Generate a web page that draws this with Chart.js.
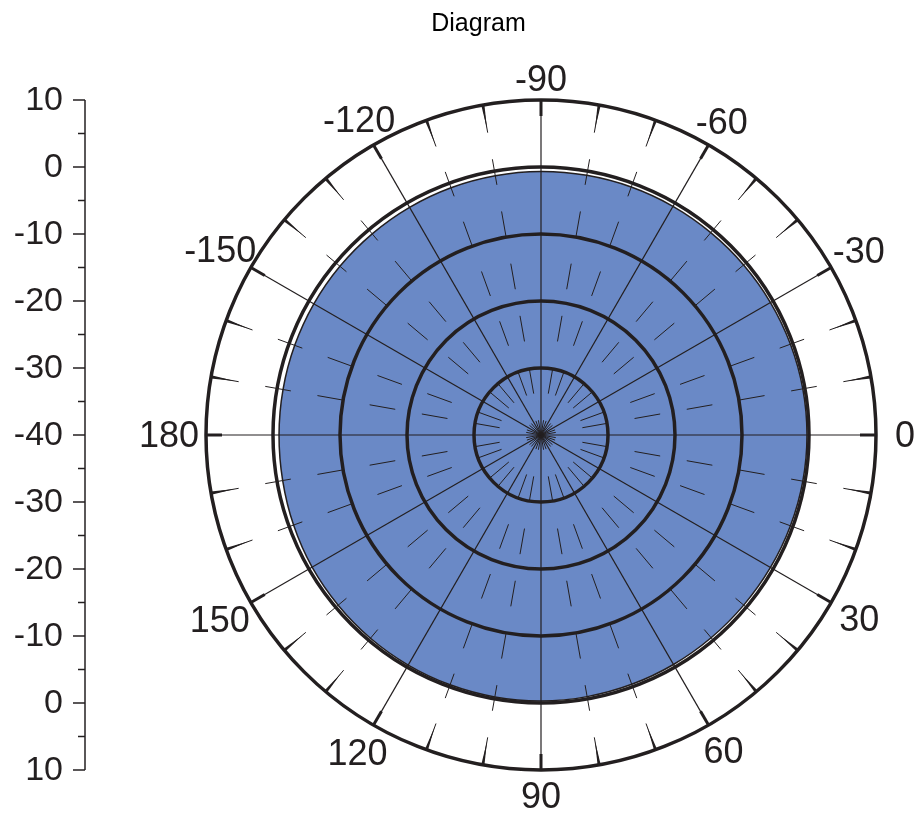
<!DOCTYPE html>
<html>
<head>
<meta charset="utf-8">
<script src="https://cdn.jsdelivr.net/npm/chart.js@4.4.0/dist/chart.umd.min.js"></script>
<style>
  html, body { margin: 0; padding: 0; background: #fff; }
  #wrap { width: 921px; height: 818px; }
</style>
</head>
<body>
<div id="wrap"><canvas id="polar"></canvas></div>
<script>
// angles in degrees, clockwise from the top of the diagram
var angleLabels = [-90, -80, -70, -60, -50, -40, -30, -20, -10, 0, 10, 20, 30, 40, 50, 60, 70, 80,
  90, 100, 110, 120, 130, 140, 150, 160, 170, 180, -170, -160, -150, -140, -130, -120, -110, -100];
// measured level (dB) at each angle
var gainDb = [-0.67, -0.65, -0.62, -0.6, -0.58, -0.52, -0.45, -0.38, -0.32, -0.3, -0.32, -0.38, -0.45, -0.5, -0.5, -0.45, -0.4, -0.35,
  -0.3, -0.3, -0.32, -0.35, -0.4, -0.48, -0.55, -0.7, -0.85, -0.9, -0.9, -0.88, -0.85, -0.82, -0.8, -0.76, -0.72, -0.7];
// left scale, read top to bottom
var leftAxisTicks = [10, 0, -10, -20, -30, -40, -30, -20, -10, 0, 10];
var rMin = -40;
var rMax = 10;

var ink = '#231f20';
var fontFam = '"Liberation Sans", Arial, Helvetica, sans-serif';

function isMajor(i) { return angleLabels[i] % 30 === 0; }

// rim ticks, angle labels and the mirrored dB axis on the left
var rimAndAxis = {
  id: 'rimAndAxis',
  afterLayout: function(chart) {
    if (chart.titleBlock) { chart.titleBlock.left = 36; chart.titleBlock.right = chart.width; }
  },
  afterDraw: function(chart) {
    var s = chart.scales.r, ctx = chart.ctx;
    var R = s.drawingArea;
    ctx.save();
    ctx.strokeStyle = ink;
    ctx.fillStyle = ink;
    ctx.font = '36px ' + fontFam;
    ctx.textAlign = 'center';
    ctx.textBaseline = 'middle';
    for (var i = 0; i < angleLabels.length; i++) {
      var a = s.getPointPosition(i, R);
      if (isMajor(i)) {
        var b = s.getPointPosition(i, R - 16);
        ctx.lineWidth = 3;
        ctx.beginPath(); ctx.moveTo(a.x, a.y); ctx.lineTo(b.x, b.y); ctx.stroke();
        // label, centred just outside the rim
        var ux = (a.x - s.xCenter) / R, uy = (a.y - s.yCenter) / R;
        var txt = String(angleLabels[i]);
        var w = ctx.measureText(txt).width;
        var off = 25 + Math.abs(ux) * 0.2 * w - Math.abs(uy) * 4 + Math.max(uy, 0) * 5;
        var p = s.getPointPosition(i, R + off);
        ctx.fillText(txt, p.x, p.y + 2);
      } else {
        var tip = s.getPointPosition(i, R - 24);
        var dx = tip.x - a.x, dy = tip.y - a.y, len = Math.sqrt(dx * dx + dy * dy);
        var nx = -dy / len * 1.6, ny = dx / len * 1.6;
        ctx.beginPath();
        ctx.moveTo(a.x + nx, a.y + ny);
        ctx.lineTo(a.x - nx, a.y - ny);
        ctx.lineTo(tip.x, tip.y);
        ctx.closePath();
        ctx.fill();
      }
    }

    // left axis
    var axX = 85;
    var ys = leftAxisTicks.map(function(v, k) {
      var d = s.getDistanceFromCenterForValue(v);
      return k <= 5 ? s.yCenter - d : s.yCenter + d;
    });
    ctx.lineWidth = 1.5;
    ctx.beginPath(); ctx.moveTo(axX, ys[0]); ctx.lineTo(axX, ys[ys.length - 1]); ctx.stroke();
    ctx.font = '34px ' + fontFam;
    ctx.textAlign = 'right';
    for (var k = 0; k < ys.length; k++) {
      ctx.beginPath(); ctx.moveTo(axX - 12, ys[k]); ctx.lineTo(axX, ys[k]); ctx.stroke();
      ctx.fillText(String(leftAxisTicks[k]), axX - 22, ys[k] + 1);
      if (k < ys.length - 1) {
        var m = (ys[k] + ys[k + 1]) / 2;
        ctx.beginPath(); ctx.moveTo(axX - 7, m); ctx.lineTo(axX, m); ctx.stroke();
      }
    }
    ctx.restore();
  }
};

new Chart(document.getElementById('polar'), {
  type: 'radar',
  data: {
    labels: angleLabels,
    datasets: [{
      label: 'Diagram',
      data: gainDb,
      backgroundColor: '#6a89c6',
      borderColor: ink,
      borderWidth: 1.5,
      pointRadius: 0,
      tension: 0.3,
      fill: 'start'
    }]
  },
  options: {
    responsive: true,
    maintainAspectRatio: false,
    animation: false,
    layout: { padding: { left: 206, right: 45, top: 0, bottom: 48 } },
    plugins: {
      legend: { display: false },
      tooltip: { enabled: false },
      title: {
        display: true,
        text: 'Diagram',
        color: '#000',
        font: { family: fontFam, size: 25, weight: 'normal', lineHeight: 1.2 },
        padding: { top: 9, bottom: 61 }
      }
    },
    scales: {
      r: {
        min: rMin,
        max: rMax,
        ticks: { display: false, stepSize: 10 },
        grid: { circular: true, color: ink, lineWidth: 3.5, z: 1 },
        angleLines: {
          color: ink,
          lineWidth: function(c) { return isMajor(c.index) ? 1.2 : 1; },
          borderDash: function(c) {
            if (isMajor(c.index)) return [];
            var R = c.chart.scales.r.drawingArea;
            return [R * 26 / 335, R * 27 / 335];
          },
          borderDashOffset: function(c) {
            if (isMajor(c.index)) return 0;
            var R = c.chart.scales.r.drawingArea;
            return R * 11 / 335;
          }
        },
        pointLabels: { display: false }
      }
    }
  },
  plugins: [rimAndAxis]
});
</script>
</body>
</html>
